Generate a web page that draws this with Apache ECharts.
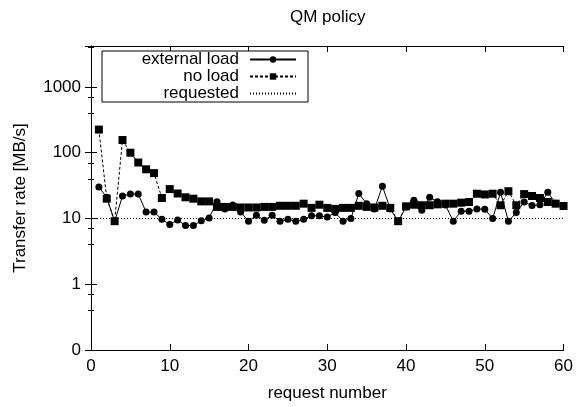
<!DOCTYPE html>
<html>
<head>
<meta charset="utf-8">
<script src="https://cdn.jsdelivr.net/npm/echarts@6/dist/echarts.min.js"></script>
<style>
  html, body { margin: 0; padding: 0; background: #fff; }
  #chart { width: 576px; height: 407px; }
</style>
</head>
<body>
<div id="chart"></div>
<script>
// request numbers on the x axis
const requestNumbers = [
  1, 2, 3, 4, 5, 6, 7, 8, 9, 10, 11, 12, 13, 14, 15, 16, 17, 18, 19, 20,
  21, 22, 23, 24, 25, 26, 27, 28, 29, 30, 31, 32, 33, 34, 35, 36, 37, 38, 39, 40,
  41, 42, 43, 44, 45, 46, 47, 48, 49, 50, 51, 52, 53, 54, 55, 56, 57, 58, 59, 60,
];

// MB/s
const externalLoad = [
  30, 21, 9, 22, 23.5, 23.5, 12.5, 12.5, 9.7, 8.1,
  9.5, 7.8, 7.8, 9.2, 10.2, 18, 14, 16, 12.6, 9.1,
  11.2, 9.4, 11.2, 9.1, 9.7, 9.1, 9.7, 11, 11, 10.5,
  12.3, 9.1, 10, 24, 16.8, 14, 31, 14, 9, 15,
  19, 13.3, 21, 18, 16, 9.1, 12.9, 12.9, 14, 13.8,
  10, 25, 9.1, 12.3, 17.8, 15.7, 16.2, 25, 17, 15.5,
];

const noLoad = [
  225, 20, 9.1, 156, 100, 71, 56, 49, 20.5, 28,
  24, 21, 20, 18.2, 18.2, 15, 15, 15, 14.7, 14.7,
  14.7, 15, 15, 15.6, 15.6, 15.6, 16.8, 14.5, 16.2, 14.5,
  14, 14.5, 14.5, 15.6, 15, 14.7, 15.6, 14.5, 9.1, 15.3,
  16.2, 15.9, 15.9, 16.4, 16.8, 16.8, 17.4, 17.8, 23.8, 23.2,
  23.8, 15.9, 26, 15.9, 23.5, 22, 20.5, 17.8, 16.8, 15.5,
];

const requestedRate = 10;
const xRange = [0, 60];
const yRange = [0.1, 4200];

const font = 'Liberation Sans, Arial, Helvetica, sans-serif';
const fontSize = 17;

const pairs = (xs, ys) => xs.map((x, i) => [x, ys[i]]);

const tickStyle = {
  axisLine: { show: true, lineStyle: { color: '#000', width: 1 } },
  axisTick: { show: true, inside: true, length: 6, lineStyle: { color: '#000' } },
  splitLine: { show: false },
};

const xBase = {
  type: 'value',
  min: xRange[0],
  max: xRange[1],
  interval: 10,
  ...tickStyle,
};

const yBase = {
  type: 'log',
  logBase: 10,
  min: yRange[0],
  max: yRange[1],
  minorTick: { show: true, splitNumber: 3, length: 3, lineStyle: { color: '#000' } },
  ...tickStyle,
};

const chart = echarts.init(document.getElementById('chart'));

chart.setOption({
  animation: false,
  backgroundColor: '#fff',
  textStyle: { fontFamily: font, color: '#000' },
  title: {
    text: 'QM policy',
    left: 290,
    top: 9,
    padding: 0,
    textStyle: { fontFamily: font, fontSize: fontSize, fontWeight: 'normal', color: '#000' },
  },
  grid: { left: 91, right: 11, top: 46, bottom: 54 },
  legend: {
    orient: 'vertical',
    left: 102,
    top: 51,
    align: 'right',
    itemWidth: 46,
    itemHeight: 8,
    itemGap: 0,
    padding: [0, 11, 0, 5],
    borderColor: '#000',
    borderWidth: 1,
    backgroundColor: '#fff',
    data: [
      'external load',
      'no load',
      { name: 'requested', itemStyle: { opacity: 0 } },
    ],
    textStyle: {
      fontFamily: font,
      fontSize: fontSize,
      color: '#000',
      width: 132,
      padding: [0, 6, 0, 0],
      overflow: 'truncate',
      lineHeight: 17,
    },
  },
  xAxis: [
    {
      ...xBase,
      position: 'bottom',
      name: 'request number',
      nameLocation: 'middle',
      nameGap: 35,
      nameTextStyle: { fontFamily: font, fontSize: fontSize, color: '#000' },
      axisLabel: { margin: 8, fontFamily: font, fontSize: fontSize, color: '#000' },
    },
    {
      ...xBase,
      position: 'top',
      axisLabel: { show: false },
    },
  ],
  yAxis: [
    {
      ...yBase,
      position: 'left',
      name: 'Transfer rate [MB/s]',
      nameLocation: 'middle',
      nameGap: 62,
      nameTextStyle: { fontFamily: font, fontSize: fontSize, color: '#000' },
      axisLabel: {
        margin: 10,
        fontFamily: font,
        fontSize: fontSize,
        color: '#000',
        showMaxLabel: false,
        formatter: (v) => (v < 1 ? '0' : v > 1000 ? '' : String(Math.round(v))),
      },
    },
    {
      ...yBase,
      position: 'right',
      axisLabel: { show: false },
    },
  ],
  series: [
    {
      name: 'external load',
      type: 'line',
      data: pairs(requestNumbers, externalLoad),
      symbol: 'circle',
      symbolSize: 7,
      itemStyle: { color: '#000' },
      lineStyle: { color: '#000', width: 1, type: 'solid' },
    },
    {
      name: 'no load',
      type: 'line',
      data: pairs(requestNumbers, noLoad),
      symbol: 'rect',
      symbolSize: 8,
      itemStyle: { color: '#000' },
      lineStyle: { color: '#000', width: 1, type: [3, 2] },
    },
    {
      name: 'requested',
      type: 'line',
      data: pairs(xRange, [requestedRate, requestedRate]),
      symbol: 'none',
      itemStyle: { color: '#000' },
      lineStyle: { color: '#000', width: 1, type: [1, 2] },
    },
  ],
});
</script>
</body>
</html>
